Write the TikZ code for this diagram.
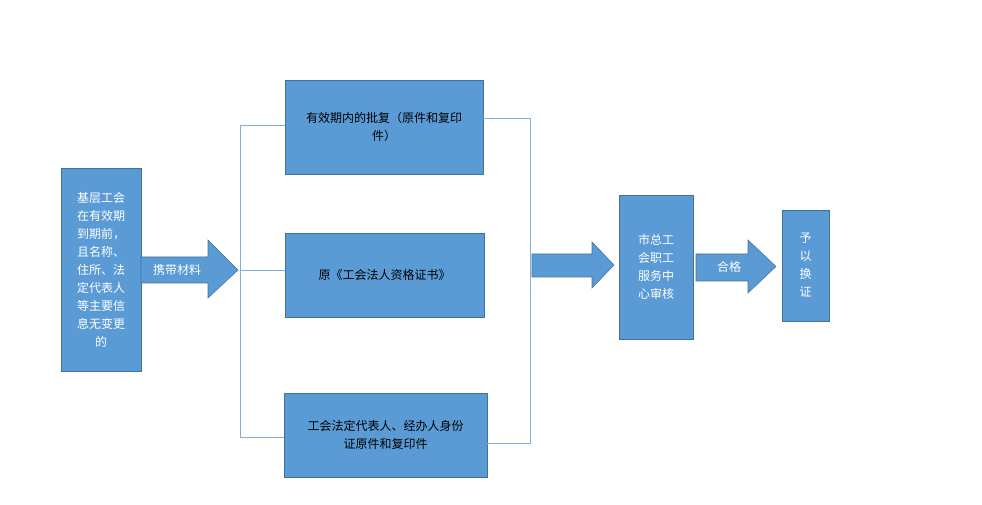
\documentclass[tikz,border=0pt]{standalone}
\usepackage{fontspec}
\setmainfont{Noto Sans CJK SC}
\usetikzlibrary{positioning}
\definecolor{boxfill}{HTML}{5B9BD5}
\definecolor{boxline}{HTML}{41719C}
\definecolor{brline}{HTML}{7FB0DE}
\tikzset{
    box/.style={draw=boxline, fill=boxfill, inner sep=2pt, font=\fontsize{9}{13.5}\selectfont, align=center},
    bigarrow/.style={draw=boxline, fill=boxfill},
    bracket/.style={draw=brline, line width=0.6pt}
}
\begin{document}
\begin{tikzpicture}[x=0.75pt, y=-0.75pt]
    \useasboundingbox (0, 0) rectangle (982, 505);
    % boxes
    \node[box, text=white, minimum width=0.75*80pt, minimum height=0.75*203pt] (start) at (101, 269.5)
        {基层工会\\在有效期\\到期前，\\且名称、\\住所、法\\定代表人\\等主要信\\息无变更\\的};
    \node[box, minimum width=0.75*198pt, minimum height=0.75*94pt] (reply) at (384, 127)
        {有效期内的批复（原件和复印\\件）};
    \node[box, minimum width=0.75*199pt, minimum height=0.75*84pt] (cert) at (384.5, 275)
        {原《工会法人资格证书》};
    \node[box, minimum width=0.75*203pt, minimum height=0.75*84pt] (ident) at (385.5, 435)
        {工会法定代表人、经办人身份\\证原件和复印件};
    \node[box, text=white, minimum width=0.75*74pt, minimum height=0.75*144pt] (review) at (656, 267)
        {市总工\\会职工\\服务中\\心审核};
    \node[box, text=white, minimum width=0.75*47pt, minimum height=0.75*111pt] (swap) at (805.5, 265.5)
        {予\\以\\换\\证};
    % brackets
    \coordinate (lt) at (240, 125);
    \coordinate (lm) at (240, 270);
    \coordinate (lb) at (240, 437);
    \coordinate (rt) at (530, 118);
    \coordinate (rb) at (530, 443);
    \draw[bracket] (reply.west |- lt) -- (lt) -- (lb) -- (ident.west |- lb);
    \draw[bracket] (lm) -- (cert.west |- lm);
    \draw[bracket] (reply.east |- rt) -- (rt) -- (rb) -- (ident.east |- rb);
    % block arrows
    \draw[bigarrow] (141, 257) -- (208, 257) -- (208, 240) -- (238, 270) -- (208, 298)
        -- (208, 283) -- (141, 283) -- cycle;
    \node[text=white, font=\fontsize{9}{12}\selectfont] (carry) at (177, 270) {携带材料};
    \draw[bigarrow] (532, 254) -- (592, 254) -- (592, 242) -- (614, 265) -- (592, 288)
        -- (592, 277) -- (532, 277) -- cycle;
    \draw[bigarrow] (696, 254) -- (748, 254) -- (748, 240) -- (776, 266.5) -- (748, 293)
        -- (748, 281) -- (696, 281) -- cycle;
    \node[text=white, font=\fontsize{9}{12}\selectfont] (pass) at (729, 267) {合格};
\end{tikzpicture}
\end{document}
